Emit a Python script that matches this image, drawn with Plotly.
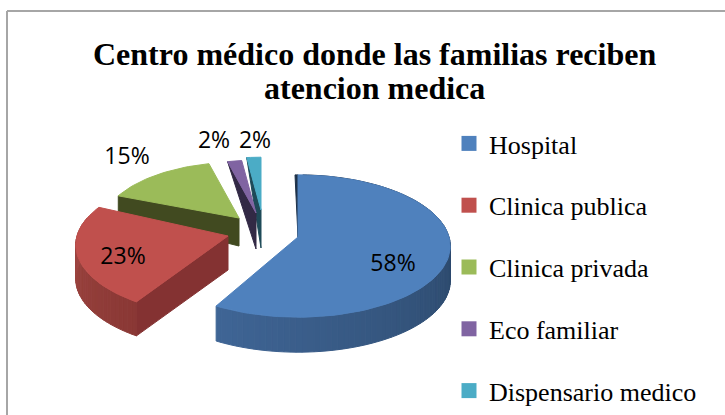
import math
import plotly.graph_objects as go

categories = ["Hospital", "Clinica publica", "Clinica privada", "Eco familiar", "Dispensario medico"]
values = [58, 23, 15, 2, 2]
title_lines = ["Centro médico donde las familias reciben", "atencion medica"]

top_colors = ["#4f81bd", "#c0504d", "#9bbb59", "#8064a2", "#4bacc6"]
edge_colors = ["#1d3149", "#843232", "#414a20", "#322945", "#1e4a58"]
curve_from = [(0x1d, 0x31, 0x49), (0x8a, 0x38, 0x35), None, None, None]
curve_to = [(0x3f, 0x65, 0x95), (0xa2, 0x48, 0x43), None, None, None]

# Layout of the exploded 3-D pie (pixel space of the axes)
apexes = [(298, 237), (228, 236), (239, 218), (256, 213), (261, 210)]
scales = [1.0, 1.0, 0.9, 0.85, 0.85]
depths = [35, 34, 28, 36, 38]
turns = [0, 4, 0, 0, 0]
label_pos = [(393, 265), (123, 258), (127, 158), (214, 142), (255, 142)]
RX, RY, K = 151, 70, 0.127


def project(theta, i):
    s = scales[i] / (1 + K * math.cos(theta))
    return (apexes[i][0] + RX * math.sin(theta) * s,
            apexes[i][1] - RY * math.cos(theta) * s)


def poly(fig, pts, color):
    xs = [p[0] for p in pts] + [pts[0][0]]
    ys = [p[1] for p in pts] + [pts[0][1]]
    fig.add_trace(go.Scatter(x=xs, y=ys, mode="lines", fill="toself", fillcolor=color,
                             line=dict(color=color, width=1), showlegend=False, hoverinfo="skip"))


fig = go.Figure()
total = sum(values)
start = 0.0
slices = []
for i, v in enumerate(values):
    end = start + 2 * math.pi * v / total
    slices.append((start + math.radians(turns[i]), end + math.radians(turns[i])))
    start = end

# draw far slices first, near ones last
for i in [4, 3, 2, 1, 0]:
    a, b = slices[i]
    ax, ay = apexes[i]
    d = depths[i]
    n = max(4, int((b - a) / math.radians(2)))
    angles = [a + (b - a) * j / n for j in range(n + 1)]
    rim = [project(t, i) for t in angles]
    # flat cut faces
    if i == 0:
        r0 = rim[0]
        poly(fig, [(ax, ay), (r0[0], r0[1]), (r0[0] - 3, r0[1])], edge_colors[i])
    if i == 1:
        r0 = rim[0]
        poly(fig, [(ax, ay), r0, (r0[0], r0[1] + d), (ax, ay + d)], edge_colors[i])
    if i == 2:
        r1 = rim[0]
        poly(fig, [(ax, ay), r1, (r1[0], r1[1] + d - 8), (ax, ay + d)], edge_colors[i])
    if i in (3, 4):
        r1 = rim[0]
        poly(fig, [(ax, ay), r1, (ax, ay + d)], edge_colors[i])
    # curved outer wall with shading
    if curve_from[i]:
        vis = [(t, p) for t, p in zip(angles, rim) if math.sin(t) > 0 or math.cos(t) < 0.3]
        m = len(vis) - 1
        for j in range(m):
            f = j / max(1, m - 1)
            c0, c1 = curve_from[i], curve_to[i]
            col = "rgb(%d,%d,%d)" % tuple(round(c0[k] + (c1[k] - c0[k]) * f) for k in range(3))
            p, q = vis[j][1], vis[j + 1][1]
            poly(fig, [p, q, (q[0], q[1] + d), (p[0], p[1] + d)], col)
    # top face
    poly(fig, [(ax, ay)] + rim, top_colors[i])

# percentage labels
fig.add_trace(go.Scatter(x=[p[0] for p in label_pos], y=[p[1] for p in label_pos], mode="text",
                         text=[f"{v}%" for v in values],
                         textfont=dict(family="Open Sans", size=23, color="#000000"),
                         textposition="middle center", showlegend=False, hoverinfo="skip"))

# legend
for name, col in zip(categories, top_colors):
    fig.add_trace(go.Scatter(x=[None], y=[None], mode="markers", name=name, legendgroup=name,
                             marker=dict(symbol="square", size=15, color=col)))

title_font = dict(family="Liberation Serif", size=32, color="#000000")
fig.update_layout(
    width=725, height=415, margin=dict(l=0, r=0, t=0, b=0, autoexpand=False),
    paper_bgcolor="white", plot_bgcolor="white",
    xaxis=dict(range=[0, 725], visible=False, fixedrange=True),
    yaxis=dict(range=[415, 0], visible=False, fixedrange=True),
    annotations=[
        dict(text=f"<b>{title_lines[0]}</b>", xref="x", yref="y", x=374, y=54, showarrow=False, font=title_font),
        dict(text=f"<b>{title_lines[1]}</b>", xref="x", yref="y", x=374, y=88, showarrow=False, font=title_font),
    ],
    legend=dict(x=449 / 725, y=1 - 120 / 415, xanchor="left", yanchor="top", tracegroupgap=25,
                font=dict(family="Liberation Serif", size=26, color="#000000"),
                itemwidth=30, bgcolor="rgba(0,0,0,0)"),
    shapes=[
        dict(type="line", xref="paper", yref="paper", x0=7 / 725, x1=1, y0=1 - 11 / 415, y1=1 - 11 / 415,
             line=dict(color="#a6a6a6", width=2)),
        dict(type="line", xref="paper", yref="paper", x0=7 / 725, x1=7 / 725, y0=1 - 11 / 415, y1=0,
             line=dict(color="#a6a6a6", width=2)),
    ],
)

fig.write_html("out.html", post_script="document.body.style.margin='0';",
               config=dict(displayModeBar=False))
